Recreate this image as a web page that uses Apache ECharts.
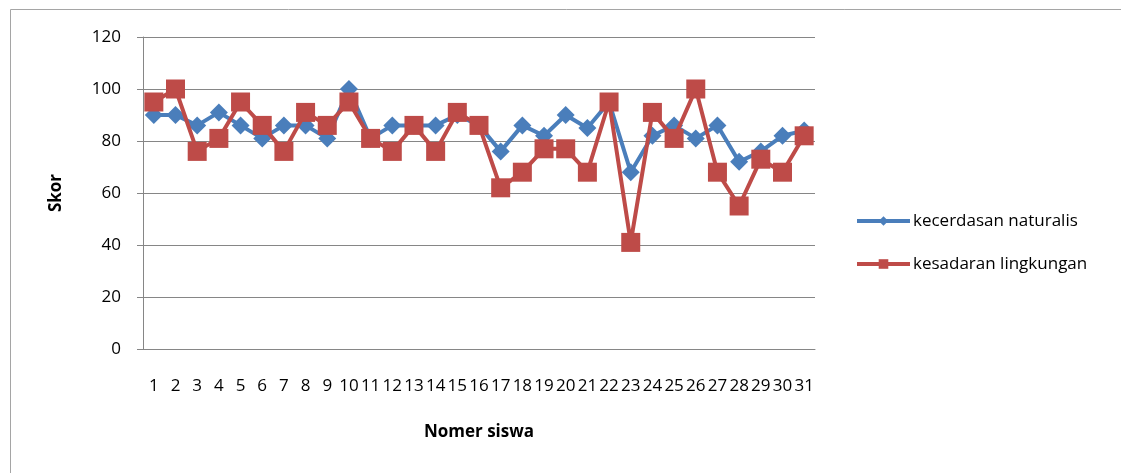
<!DOCTYPE html>
<html>
<head>
  <meta charset="utf-8">
  <title>Skor siswa</title>
  <script src="https://cdn.jsdelivr.net/npm/echarts@6/dist/echarts.min.js"></script>
  <style>
    html, body { margin: 0; padding: 0; background: #fff; }
    #chart { width: 1121px; height: 473px; }
  </style>
</head>
<body>
<div id="chart"></div>
<script>
// student numbers 1..31
var siswa = ['1','2','3','4','5','6','7','8','9','10','11','12','13','14','15','16',
             '17','18','19','20','21','22','23','24','25','26','27','28','29','30','31'];

var naturalis = [90, 90, 86, 91, 86, 81, 86, 86, 81, 100, 81, 86, 86, 86, 90, 86,
                 76, 86, 82, 90, 85, 95, 68, 82, 86, 81, 86, 72, 76, 82, 84];

var lingkungan = [95, 100, 76, 81, 95, 86, 76, 91, 86, 95, 81, 76, 86, 76, 91, 86,
                  62, 68, 77, 77, 68, 95, 41, 91, 81, 100, 68, 55, 73, 68, 82];

var font = '"Open Sans", "Noto Sans", sans-serif';

var myChart = echarts.init(document.getElementById('chart'));
var option = {
    animation: false,
    textStyle: { fontFamily: font },
    graphic: [{
        type: 'rect',
        left: 8,
        top: 7,
        shape: { width: 1200, height: 520 },
        style: { fill: 'none', stroke: '#a5a5a5', lineWidth: 1 },
        silent: true
    }],
    grid: {
        left: 143,
        right: 306,
        top: 37,
        bottom: 124
    },
    legend: {
        orient: 'vertical',
        left: 850,
        top: 206,
        itemWidth: 53,
        itemHeight: 12,
        itemGap: 23,
        lineStyle: { width: 4 },
        textStyle: { fontSize: 17, color: '#000', fontFamily: font, lineHeight: 20, padding: [0, 0, 0, -2] },
        data: ['kecerdasan naturalis', 'kesadaran lingkungan']
    },
    xAxis: {
        type: 'category',
        data: siswa,
        name: 'Nomer siswa',
        nameLocation: 'middle',
        nameGap: 75,
        nameTextStyle: { fontSize: 17, fontWeight: 'bold', color: '#000', fontFamily: font },
        axisLine: { lineStyle: { color: '#868686', width: 1 } },
        axisTick: { show: false },
        axisLabel: { interval: 0, margin: 29, fontSize: 17, color: '#000', fontFamily: font }
    },
    yAxis: {
        type: 'value',
        min: 0,
        max: 120,
        interval: 20,
        name: 'Skor',
        nameLocation: 'middle',
        nameGap: 78,
        nameTextStyle: { fontSize: 17, fontWeight: 'bold', color: '#000', fontFamily: font },
        axisLine: { show: true, lineStyle: { color: '#868686', width: 1 } },
        axisTick: { show: true, length: 6, lineStyle: { color: '#868686' } },
        axisLabel: { margin: 22, fontSize: 17, color: '#000', fontFamily: font },
        splitLine: { lineStyle: { color: '#868686', width: 1 } }
    },
    series: [{
        name: 'kecerdasan naturalis',
        type: 'line',
        data: naturalis,
        symbol: 'diamond',
        symbolSize: 18,
        lineStyle: { color: '#4a7ebb', width: 4 },
        itemStyle: { color: '#4a7ebb' },
        z: 2
    }, {
        name: 'kesadaran lingkungan',
        type: 'line',
        data: lingkungan,
        symbol: 'rect',
        symbolSize: 19,
        lineStyle: { color: '#be4b48', width: 4 },
        itemStyle: { color: '#be4b48' },
        z: 3
    }]
};
myChart.setOption(option);
</script>
</body>
</html>
